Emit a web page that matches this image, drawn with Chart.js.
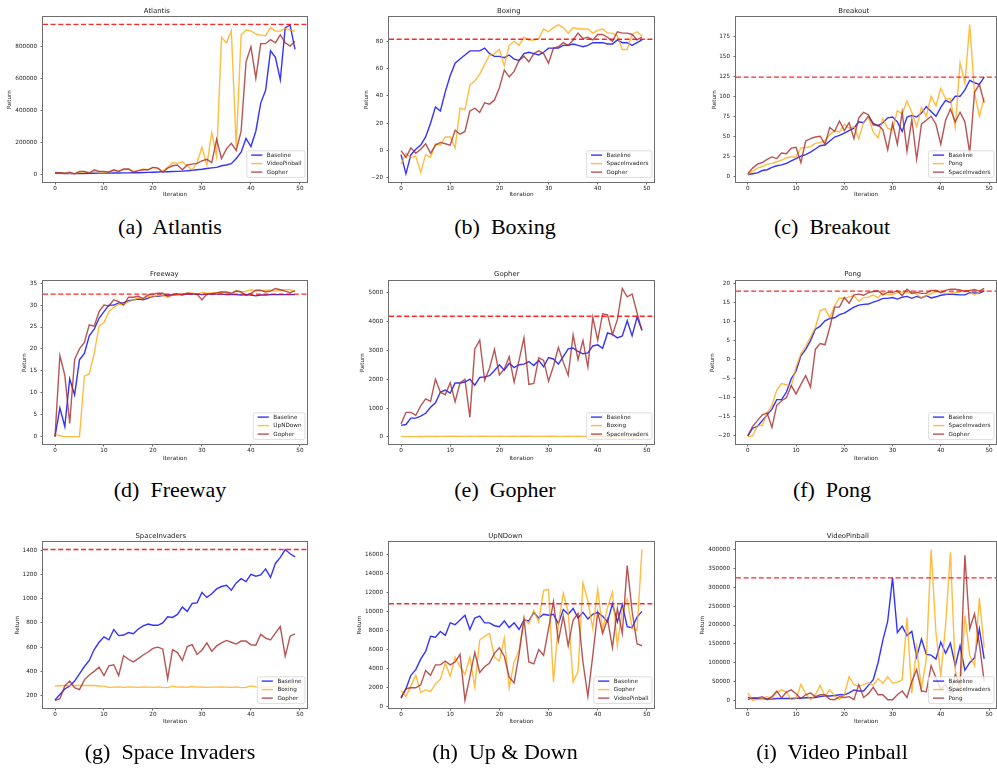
<!DOCTYPE html>
<html><head><meta charset="utf-8">
<script src="https://cdn.jsdelivr.net/npm/chart.js@4.4.0/dist/chart.umd.min.js"></script>
<style>
html,body{margin:0;padding:0;background:#fff;}
body{width:997px;height:771px;position:relative;overflow:hidden;}
canvas{position:absolute;}
.cap{position:absolute;font-family:"Liberation Serif","Times New Roman",serif;font-size:22px;line-height:24px;white-space:pre;transform:translateX(-50%);color:#000;}
</style></head><body>
<script>
// ---------- data ----------
const iterations = [0,1,2,3,4,5,6,7,8,9,10,11,12,13,14,15,16,17,18,19,20,21,22,23,24,25,26,27,28,29,30,31,32,33,34,35,36,37,38,39,40,41,42,43,44,45,46,47,48,49];
const xTicks = [0,10,20,30,40,50];

const atlantisBaseline = [10000,8000,7000,6000,6000,7000,7000,8000,8000,9000,9000,9000,10000,10000,11000,11000,12000,12000,13000,14000,15000,16000,17000,18000,19000,20000,22000,24000,27000,30000,33000,38000,42000,45000,55000,60000,68000,100000,140000,225000,175000,270000,445000,525000,770000,730000,590000,915000,930000,780000];
const atlantisVideoPinball = [15000,12000,10000,8000,5000,15000,18000,15000,20000,18000,15000,20000,25000,20000,30000,35000,20000,25000,35000,30000,45000,40000,20000,45000,75000,70000,80000,55000,30000,75000,170000,60000,260000,110000,855000,820000,895000,175000,870000,900000,895000,875000,868000,865000,915000,893000,893000,910000,900000,893000];
const atlantisGopher = [12000,12000,8000,15000,5000,20000,20000,8000,30000,20000,20000,15000,30000,20000,35000,35000,15000,25000,30000,30000,45000,40000,15000,40000,55000,60000,30000,60000,65000,70000,85000,95000,75000,220000,100000,160000,195000,150000,270000,700000,795000,600000,815000,815000,840000,820000,870000,820000,800000,830000];
const atlantisRef = 935000;
const atlantisTicks = [0,200000,400000,600000,800000];

const boxingBaseline = [-3,-17,-3,1,4,10,20,32,29,43,55,64,67,70,73,73,73,75,71,69,69,68,70,67,66,71,72,71,70,72,75,75,75,77,77,78,77,76,77,79,79,79,78,78,81,79,79,77,79,81];
const boxingSpaceInvaders = [-10,-2,-5,-4,-16,-3,-5,5,4,10,10,2,31,30,48,51,56,63,70,71,74,62,77,80,77,83,81,81,82,89,87,90,92,90,86,90,89,89,89,86,88,89,86,86,84,74,74,85,87,84];
const boxingGopher = [0,-5,2,-2,1,5,-2,4,6,5,4,15,12,14,29,31,28,35,34,37,46,59,54,58,66,69,65,71,73,71,64,75,76,79,77,81,86,82,83,81,85,85,83,80,87,86,86,85,81,83];
const boxingRef = 81.5;
const boxingTicks = [-20,0,20,40,60,80];

const breakoutBaseline = [2,3,4,7,8,11,13,14,16,19,22,25,27,30,34,38,39,44,49,51,54,57,60,68,67,75,66,63,67,73,74,68,56,74,76,74,79,87,81,75,86,95,92,100,100,108,120,117,115,124];
const breakoutPong = [2,6,10,12,15,16,18,20,23,24,24,35,36,37,41,42,44,52,57,55,65,60,62,47,67,74,55,48,72,60,58,82,78,94,80,62,86,75,100,88,110,97,97,61,142,116,190,104,75,98];
const breakoutSpaceInvaders = [3,10,15,17,21,24,22,29,28,35,36,17,44,47,49,50,40,61,56,69,57,67,47,73,80,77,64,64,58,33,66,40,80,31,71,21,65,70,75,65,40,70,84,68,80,68,29,105,115,92];
const breakoutRef = 124;
const breakoutTicks = [0,25,50,75,100,125,150,175];

const freewayBaseline = [0,6.5,2.3,13.2,9.5,17.5,19,23,24.5,27,28.5,30,30,30.5,30.5,31,31.2,31.4,31.2,31.6,32,32,32.2,32.3,32.3,32.4,32.4,32.5,32.5,32.5,32.4,32.5,32.5,32.5,32.5,32.4,32.4,32.4,32.3,32.4,32.3,32.1,32.3,32.3,32.4,32.4,32.4,32.4,32.4,32.4];
const freewayUpNDown = [0.5,0.2,0,0,0,0,13.8,14.3,19,25.2,26,28.5,29.5,30.2,30.2,30.8,31.2,31.6,31.5,32,31.8,32.2,32.2,31.8,32.3,32.4,32.5,32.8,32.7,32.5,32.9,32.7,32.8,32.8,33,32.8,32.6,33.4,33,33.2,33.5,33.2,33.2,33.4,33.4,33.2,33.4,33.5,33.5,33.1];
const freewayGopher = [0,18.5,14,3,17.6,20,21.5,25.5,25.2,28.5,30,29.8,31.2,30.8,30,31.8,31.8,32,31.5,32.3,32.5,32.7,32.7,32,32.4,32.6,32.3,32.7,32.6,32.5,31.2,32.5,32.6,32.8,33,33,32.7,33.2,33,32.2,32.7,33.4,33.4,33,33.2,33.8,33.5,33.2,32.8,33.3];
const freewayRef = 32.5;
const freewayTicks = [0,5,10,15,20,25,30,35];

const gopherBaseline = [400,430,650,650,720,820,1030,1180,1550,1620,1520,1870,1870,1900,2000,1790,2060,2080,2120,2300,2500,2310,2550,2400,2500,2520,2610,2470,2650,2430,2750,2700,2520,2780,3050,3080,2960,2880,2910,3150,3190,3070,3600,3550,3430,3500,4020,3500,4150,3700];
const gopherBoxing = [20,10,10,12,15,18,20,15,18,20,22,25,20,18,22,20,25,22,18,20,22,20,18,22,20,25,22,20,18,20,22,25,20,18,22,20,25,20,18,22,20,22,25,20,18,20,22,20,25,22];
const gopherSpaceInvaders = [450,850,850,750,1080,1320,1230,2000,1550,1460,1880,1220,1870,2000,680,3050,3350,1960,2380,3030,2150,2350,2780,1900,2650,3430,1820,1850,2740,2650,1930,2450,3100,2590,2130,3530,2680,3340,2420,4150,3350,4260,4230,3550,4060,5140,4850,4950,4300,3680];
const gopherRef = 4180;
const gopherTicks = [0,1000,2000,3000,4000,5000];

const pongBaseline = [-20,-18,-17.5,-16,-14.5,-13,-10.5,-10.5,-8.5,-5,-3,1,2.7,5,8,8.8,10.2,10.8,11,11.8,12.2,13,13.8,14.3,14.5,14.6,15.1,15.5,16.1,16.1,16.3,15.9,16.4,16.6,16.1,16.6,16.2,16.8,16.2,16.5,16.9,17.1,17.2,17.1,17,17,17.6,17.5,17.5,18];
const pongSpaceInvaders = [-20.2,-20,-17.3,-17.3,-14,-12,-8,-6.3,-6.6,-7,-2,1.5,3.5,6,8.4,12.9,13.4,11,14.2,16.2,16.1,16.5,16.8,15.3,16.3,16.4,17,16.2,17.6,17,17.1,17.6,17.8,17.5,17.6,17.2,16.2,16.9,17.3,17.8,18,17.3,17.5,17.5,17.8,18.2,17.9,17,17.7,18.3];
const pongGopher = [-20,-17.5,-16,-14.5,-14,-17.8,-12,-10.8,-10,-6.8,-9,-6.5,-4.2,-7.2,2.7,4.2,3.9,8.5,13.8,13.8,16.3,14.8,17,17.2,16.9,17.6,17.9,18.1,17,17.7,17.6,18.1,16.8,18.5,17.4,17.7,17.4,17.4,18.2,18.2,17.6,18.2,18.5,18.5,18.3,17.9,18.2,18.4,18,18.7];
const pongRef = 18;
const pongTicks = [-20,-15,-10,-5,0,5,10,15,20];

const spaceBaseline = [165,210,255,280,320,380,440,490,580,640,685,660,745,695,700,720,710,750,775,790,780,780,800,850,845,870,930,895,960,965,1050,1010,1040,1080,1100,1110,1070,1130,1165,1140,1200,1185,1195,1245,1175,1290,1340,1405,1370,1345];
const spaceBoxing = [280,282,283,283,283,283,283,283,283,280,278,268,270,272,268,272,270,268,272,270,268,272,268,266,278,270,272,268,275,270,272,268,270,270,272,270,268,272,266,268,280,272,270,272,270,280,268,272,270,275];
const spaceGopher = [160,175,280,320,265,250,330,370,400,435,365,445,455,365,530,500,478,505,535,560,590,600,585,340,580,555,490,605,620,540,575,635,565,610,635,655,640,625,650,650,620,615,705,675,660,715,770,525,690,710];
const spaceRef = 1405;
const spaceTicks = [200,400,600,800,1000,1200,1400];

const upBaseline = [900,1900,3300,3900,5000,5800,7400,7300,7900,7500,8800,8600,9100,9600,8100,9300,9500,8800,8800,8500,8400,9000,8300,8800,8100,9100,9000,9900,9300,9700,9600,9700,8700,10200,9700,10300,9300,9900,9200,9700,9900,9500,8900,10800,8900,10700,8400,8300,9400,10000];
const upGopher = [1700,1100,2200,3300,1500,1800,1600,2400,2900,4600,3200,5200,4200,3400,5200,2100,7000,7400,7700,5200,4800,7200,2000,4700,5900,9300,8700,10100,8900,12200,12300,2600,8700,11900,9900,2600,3700,13000,11100,8200,12300,8100,10400,12000,6400,10200,11300,8200,8000,16500];
const upVideoPinball = [1000,1900,2000,2000,2300,3800,3300,4400,4400,4800,4400,4700,5500,700,3200,5700,3600,4200,4600,5600,6200,5300,3100,2500,5500,9200,4700,4500,6000,5400,8200,11000,6900,9500,6400,9100,9800,4700,1100,5400,9900,7700,9200,6200,10300,7700,14800,10000,6600,6400];
const upRef = 10800;
const upTicks = [0,2000,4000,6000,8000,10000,12000,14000,16000];

const vpBaseline = [8000,5000,5000,5000,4000,4000,5000,5000,5000,5000,6000,6000,7000,7000,8000,10000,12000,12000,13000,15000,15000,20000,28000,25000,25000,40000,55000,100000,160000,210000,325000,180000,197000,172000,183000,115000,163000,122000,120000,110000,155000,125000,152000,92000,145000,80000,100000,113000,190000,110000];
const vpSpaceInvaders = [20000,0,3000,5000,10000,5000,22000,28000,22000,2000,5000,42000,18000,2000,15000,40000,12000,28000,12000,3000,15000,63000,42000,38000,42000,47000,40000,58000,45000,63000,46000,48000,55000,220000,20000,140000,30000,110000,400000,180000,65000,200000,393000,80000,20000,225000,120000,92000,272000,140000];
const vpPong = [2000,7000,7000,10000,2000,10000,25000,7000,22000,28000,18000,5000,15000,20000,10000,15000,15000,3000,2000,10000,8000,10000,2000,42000,8000,18000,35000,15000,15000,2000,2000,15000,25000,8000,50000,82000,25000,23000,92000,60000,30000,42000,20000,68000,40000,385000,190000,230000,150000,50000];
const vpRef = 325000;
const vpTicks = [0,50000,100000,150000,200000,250000,300000,350000,400000];

// ---------- panel definitions ----------
const panels = [
 {title:'Atlantis', names:['Baseline','VideoPinball','Gopher'], series:[atlantisBaseline,atlantisVideoPinball,atlantisGopher], ref:atlantisRef, yTicks:atlantisTicks, yMin:-46000, yMax:981000, col:0,row:0, retX:10, caption:'(a)  Atlantis'},
 {title:'Boxing', names:['Baseline','SpaceInvaders','Gopher'], series:[boxingBaseline,boxingSpaceInvaders,boxingGopher], ref:boxingRef, yTicks:boxingTicks, yMin:-23, yMax:97.8, col:1,row:0, retX:367, caption:'(b)  Boxing'},
 {title:'Breakout', names:['Baseline','Pong','SpaceInvaders'], series:[breakoutBaseline,breakoutPong,breakoutSpaceInvaders], ref:breakoutRef, yTicks:breakoutTicks, yMin:-7.4, yMax:199.4, col:2,row:0, retX:715, caption:'(c)  Breakout'},
 {title:'Freeway', names:['Baseline','UpNDown','Gopher'], series:[freewayBaseline,freewayUpNDown,freewayGopher], ref:freewayRef, yTicks:freewayTicks, yMin:-1.69, yMax:35.5, col:0,row:1, retX:25, caption:'(d)  Freeway'},
 {title:'Gopher', names:['Baseline','Boxing','SpaceInvaders'], series:[gopherBaseline,gopherBoxing,gopherSpaceInvaders], ref:gopherRef, yTicks:gopherTicks, yMin:-245, yMax:5400, col:1,row:1, retX:363, caption:'(e)  Gopher'},
 {title:'Pong', names:['Baseline','SpaceInvaders','Gopher'], series:[pongBaseline,pongSpaceInvaders,pongGopher], ref:pongRef, yTicks:pongTicks, yMin:-22.15, yMax:20.65, col:2,row:1, retX:713, caption:'(f)  Pong'},
 {title:'SpaceInvaders', names:['Baseline','Boxing','Gopher'], series:[spaceBaseline,spaceBoxing,spaceGopher], ref:spaceRef, yTicks:spaceTicks, yMin:98, yMax:1467, col:0,row:2, retX:18, caption:'(g)  Space Invaders'},
 {title:'UpNDown', names:['Baseline','Gopher','VideoPinball'], series:[upBaseline,upGopher,upVideoPinball], ref:upRef, yTicks:upTicks, yMin:-120, yMax:17270, col:1,row:2, retX:360, caption:'(h)  Up & Down'},
 {title:'VideoPinball', names:['Baseline','SpaceInvaders','Pong'], series:[vpBaseline,vpSpaceInvaders,vpPong], ref:vpRef, yTicks:vpTicks, yMin:-20000, yMax:420000, col:2,row:2, retX:703, caption:'(i)  Video Pinball'}
];

// ---------- layout & style ----------
const layoutGeo = {
  colCanvasLeft:[0,330,660], colCanvasW:[330,330,337],
  colPlotLeft:[43,389,736], colPlotRight:[307,654,996],
  rowCanvasTop:[0,255,520], rowCanvasH:[205,215,225],
  rowPlotTop:[17,281,542], rowPlotBottom:[182,444,708],
  rowTitleY:[11,274,536], rowIterY:[195,459,722],
  capX:[170,505,832], capY:[227,490,752]
};
const lineColors = ['rgba(0,0,255,0.8)','rgba(255,165,0,0.75)','rgba(165,42,42,0.8)'];
const refColor = 'rgba(255,0,0,0.85)';
const FONT = "'DejaVu Sans', sans-serif";
const FS = 5.7, TFS = 6.9;
const fmt = v => v < 0 ? '\u2212' + Math.abs(v) : String(v);

const mplPlugin = {
  id:'mplDeco',
  afterDraw(chart, args, opts){
    const {ctx, chartArea:a} = chart;
    ctx.save();
    // spines
    ctx.strokeStyle = '#6e6e6e'; ctx.lineWidth = 1;
    ctx.strokeRect(a.left - 0.5, a.top - 0.5, a.right - a.left + 1, a.bottom - a.top + 1);
    // legend
    ctx.font = FS + 'px ' + FONT;
    const tw = Math.max(...opts.names.map(n => ctx.measureText(n).width));
    const padX = 4.3, handle = 11.2, gap = 4.5, rowH = 8.5;
    const w = padX + handle + gap + tw + 3.5;
    const h = rowH * 3 + 1.1;
    const x = a.right - 2 - w, y = a.bottom - 4.6 - h;
    ctx.beginPath();
    if (ctx.roundRect) ctx.roundRect(x, y, w, h, 1.5); else ctx.rect(x, y, w, h);
    ctx.fillStyle = 'rgba(255,255,255,0.8)'; ctx.fill();
    ctx.strokeStyle = '#d4d4d4'; ctx.lineWidth = 0.8; ctx.stroke();
    opts.names.forEach((n, i) => {
      const cy = y + 4.3 + i * rowH;
      ctx.beginPath(); ctx.moveTo(x + padX, cy); ctx.lineTo(x + padX + handle, cy);
      ctx.strokeStyle = opts.colors[i]; ctx.lineWidth = 1.4; ctx.stroke();
      ctx.fillStyle = '#222'; ctx.textBaseline = 'middle'; ctx.textAlign = 'left';
      ctx.fillText(n, x + padX + handle + gap, cy + 0.3);
    });
    ctx.restore();
  }
};

panels.forEach((p, idx) => {
  const g = layoutGeo;
  const cl = g.colCanvasLeft[p.col], cw = g.colCanvasW[p.col];
  const ct = g.rowCanvasTop[p.row], ch = g.rowCanvasH[p.row];
  const plotL = g.colPlotLeft[p.col] - cl, plotR = g.colPlotRight[p.col] - cl;
  const plotT = g.rowPlotTop[p.row] - ct, plotB = g.rowPlotBottom[p.row] - ct;
  const titleC = g.rowTitleY[p.row] - ct, iterC = g.rowIterY[p.row] - ct, retC = p.retX - cl;
  const lhT = TFS * 1.2, lh = FS * 1.2;
  const padTop = titleC - lhT / 2;
  const titlePadBottom = Math.max(0, plotT - padTop - lhT);
  const padLeft = retC - lh / 2;
  const yW = plotL - padLeft;
  const xH = iterC + lh / 2 - plotB;
  const padBottom = ch - plotB - xH;
  const padRight = cw - plotR;

  const cv = document.createElement('canvas');
  cv.width = cw; cv.height = ch;
  cv.style.left = cl + 'px'; cv.style.top = ct + 'px';
  cv.style.width = cw + 'px'; cv.style.height = ch + 'px';
  document.body.appendChild(cv);

  const datasets = p.series.map((vals, i) => ({
    label: p.names[i],
    data: vals.map((v, k) => ({x: iterations[k], y: v})),
    borderColor: lineColors[i], borderWidth: 1.4, pointRadius: 0, tension: 0, fill: false,
    order: 4 - i
  }));
  datasets.push({
    label: 'ref', data: [{x:-2.45, y:p.ref}, {x:51.45, y:p.ref}],
    borderColor: refColor, borderWidth: 1.3, borderDash: [5, 2.6], pointRadius: 0, fill: false, order: 0
  });

  const tickFont = {family: FONT, size: FS};
  new Chart(cv, {
    type: 'line',
    data: {datasets},
    plugins: [mplPlugin],
    options: {
      responsive: false, animation: false, devicePixelRatio: 1, events: [],
      layout: {padding: {left: padLeft, right: padRight, top: padTop, bottom: padBottom}},
      plugins: {
        legend: {display: false}, tooltip: {enabled: false},
        title: {display: true, text: p.title, color: '#222', font: {family: FONT, size: TFS, weight: 'normal'}, padding: {top: 0, bottom: titlePadBottom}},
        mplDeco: {names: p.names, colors: lineColors}
      },
      scales: {
        x: {
          type: 'linear', min: -2.45, max: 51.45,
          afterBuildTicks: s => { s.ticks = xTicks.map(v => ({value: v})); },
          afterFit: s => { s.height = xH; s.paddingLeft = 0; s.paddingRight = 0; },
          ticks: {font: tickFont, color: '#222', padding: 1, maxRotation: 0, autoSkip: false, callback: v => fmt(v)},
          grid: {display: true, drawOnChartArea: false, drawTicks: true, tickLength: 2.5, color: '#444', lineWidth: 0.8},
          border: {display: false},
          title: {display: true, text: 'Iteration', color: '#222', font: tickFont, padding: {top: 0, bottom: 0}}
        },
        y: {
          type: 'linear', min: p.yMin, max: p.yMax,
          afterBuildTicks: s => { s.ticks = p.yTicks.map(v => ({value: v})); },
          afterFit: s => { s.width = yW; s.paddingTop = 0; s.paddingBottom = 0; },
          ticks: {font: tickFont, color: '#222', padding: 3.5, autoSkip: false, callback: v => fmt(v)},
          grid: {display: true, drawOnChartArea: false, drawTicks: true, tickLength: 2.5, color: '#444', lineWidth: 0.8},
          border: {display: false},
          title: {display: true, text: 'Return', color: '#222', font: tickFont, padding: {top: 0, bottom: 0}}
        }
      }
    }
  });

  const cap = document.createElement('div');
  cap.className = 'cap';
  cap.textContent = p.caption;
  cap.style.left = g.capX[p.col] + 'px';
  cap.style.top = (g.capY[p.row] - 12) + 'px';
  document.body.appendChild(cap);
});
</script>
</body></html>
